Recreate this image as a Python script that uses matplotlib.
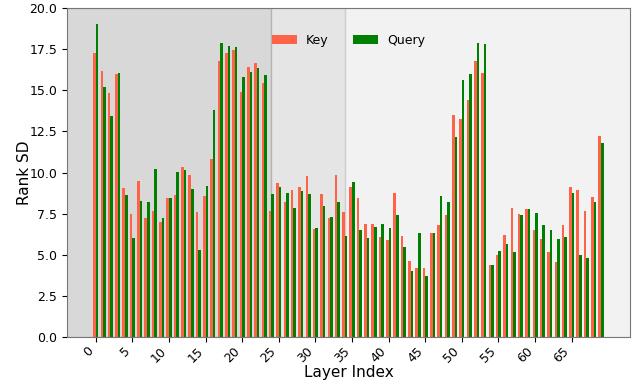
import numpy as np
import matplotlib
matplotlib.use("Agg")
import matplotlib.pyplot as plt

# per-layer rank standard deviation for key and query projections
layers = np.arange(70)
key_sd = [17.30, 16.19, 14.87, 15.99, 9.06, 7.46, 9.50, 7.25, 7.64, 6.99,
          8.43, 8.61, 10.35, 9.87, 7.58, 8.57, 10.84, 16.76, 17.28, 17.43,
          14.89, 16.43, 16.66, 15.44, 7.66, 9.36, 8.21, 8.94, 9.14, 9.77,
          6.59, 8.67, 7.23, 9.85, 7.60, 9.14, 8.45, 6.89, 6.89, 6.06,
          5.90, 8.73, 6.12, 4.62, 4.19, 4.21, 6.30, 6.79, 7.42, 13.52,
          13.23, 14.39, 16.76, 16.07, 4.40, 4.98, 6.18, 7.86, 7.50, 7.78,
          6.50, 5.96, 5.17, 4.56, 6.83, 9.10, 8.94, 7.68, 8.53, 12.20]
query_sd = [19.03, 15.20, 13.47, 16.05, 8.61, 6.02, 8.25, 8.21, 10.23, 7.25,
            8.47, 10.05, 10.15, 8.98, 5.27, 9.16, 13.82, 17.85, 17.71, 17.61,
            15.81, 16.09, 16.39, 15.95, 8.67, 9.12, 8.75, 7.82, 8.88, 8.67,
            6.63, 7.96, 7.29, 8.23, 6.12, 9.40, 6.54, 6.02, 6.67, 6.85,
            6.61, 7.40, 5.47, 4.03, 6.30, 3.71, 6.30, 8.59, 8.23, 12.14,
            15.66, 15.99, 17.85, 17.83, 4.36, 5.21, 5.65, 5.17, 7.42, 7.78,
            7.52, 6.79, 6.54, 5.96, 6.10, 8.77, 4.96, 4.82, 8.21, 11.83]

# layer ranges that get a shaded background
regions = [(-10, 24, 0.3), (24, 34, 0.2), (34, 80, 0.1)]

width = 0.35

fig, ax = plt.subplots(figsize=(6.34, 3.87), dpi=100)
fig.subplots_adjust(left=0.106, right=0.993, bottom=0.129, top=0.979)

for start, end, alpha in regions:
    ax.axvspan(start, end, color="gray", alpha=alpha, zorder=0)

ax.bar(layers - width / 2, key_sd, width, color="tomato", label="Key", zorder=2)
ax.bar(layers + width / 2, query_sd, width, color="green", label="Query", zorder=2)

ax.set_xlim(-3.9, 72.9)
ax.set_ylim(0, 20)
ax.set_yticks(np.arange(0, 20.1, 2.5))
ax.set_xticks(np.arange(0, 70, 5))
ax.tick_params(labelsize=9)
ax.tick_params(axis="x", pad=2)
plt.setp(ax.get_xticklabels(), rotation=45, ha="right")

ax.set_xlabel("Layer Index", fontsize=11, labelpad=0)
ax.set_ylabel("Rank SD", fontsize=11, labelpad=-1.5)

for sp in ax.spines.values():
    sp.set_color("#777777")

ax.legend(loc="upper center", bbox_to_anchor=(0.5, 0.957), ncol=2,
          frameon=False, fontsize=9, handletextpad=0.7)

fig.savefig("out.png", dpi=100)
